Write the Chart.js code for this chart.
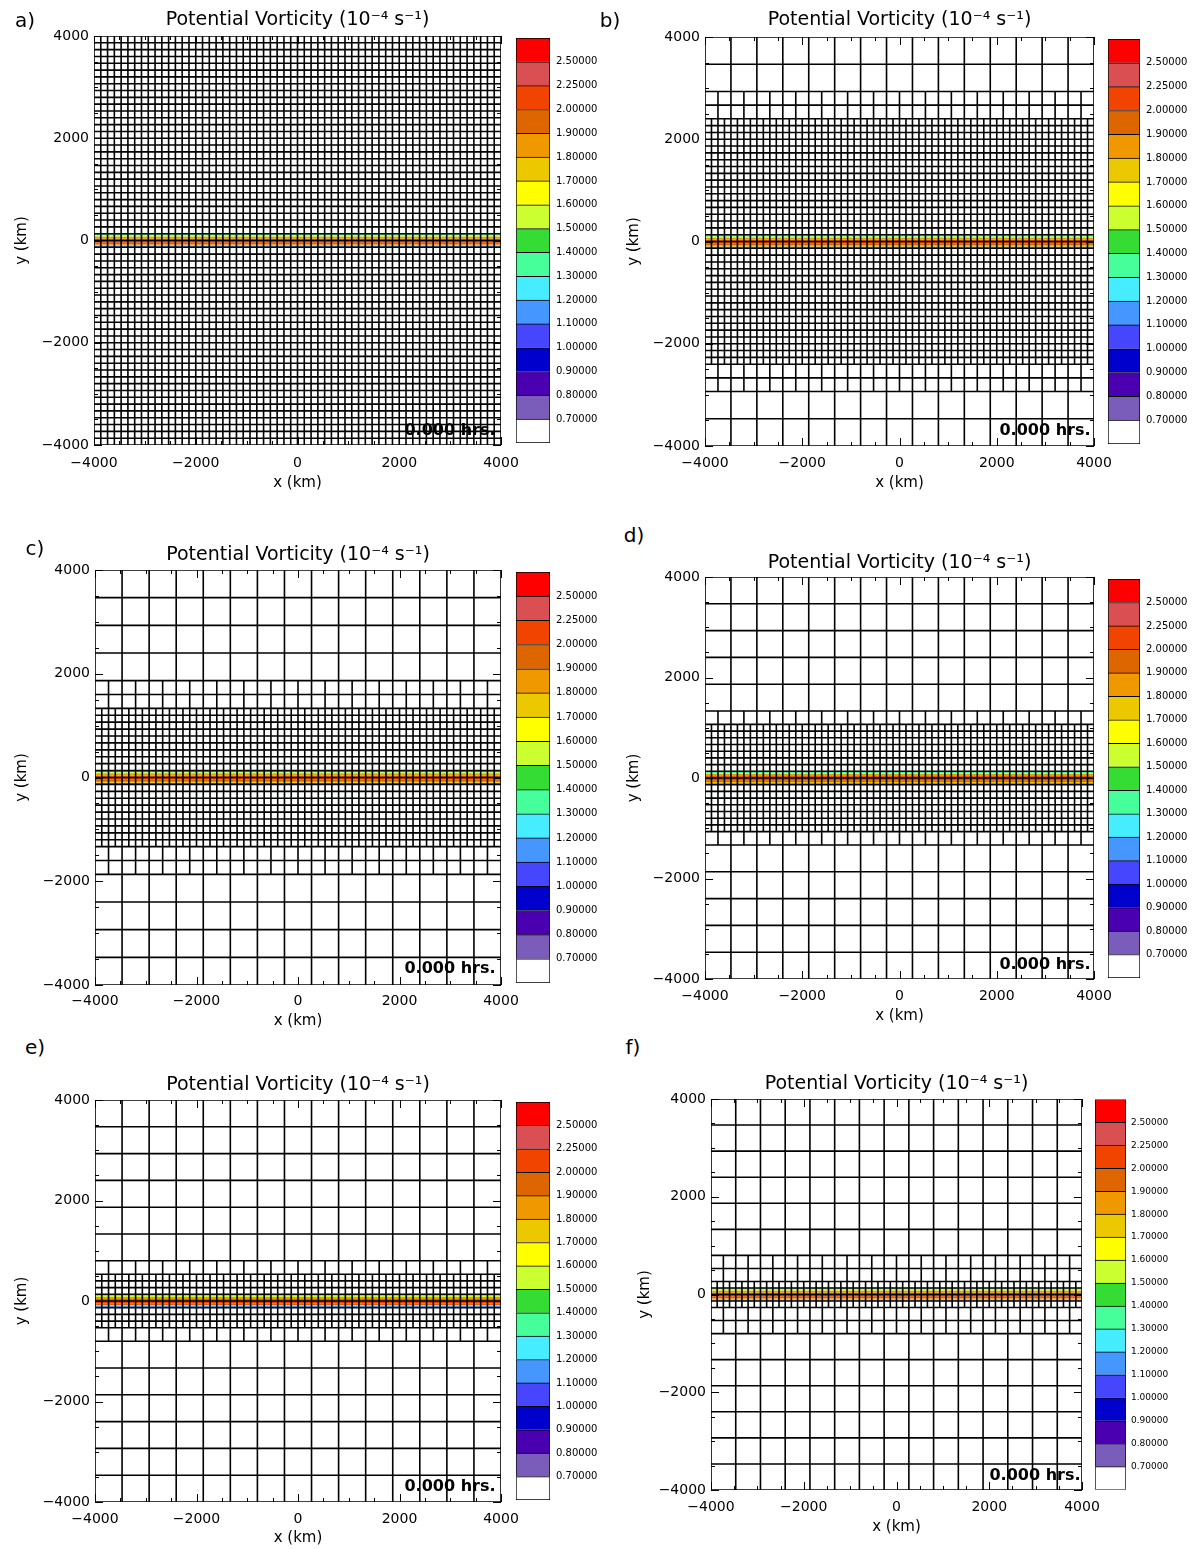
<!DOCTYPE html>
<html><head><meta charset="utf-8">
<script src="https://cdn.jsdelivr.net/npm/chart.js@4.4.0/dist/chart.umd.min.js"></script>
<style>
body{margin:0;background:#fff;}
#fig{position:relative;width:1192px;height:1549px;background:#fff;font-family:"DejaVu Sans",sans-serif;overflow:hidden;}
canvas{position:absolute;}
.lbl{position:absolute;color:#000;white-space:nowrap;transform:translate(-50%,-50%);line-height:1;}
</style></head><body><div id="fig"></div>
<script>
// ---------------- data ----------------
const panelLabels = ['a)','b)','c)','d)','e)','f)'];
const timeHours = [0,0,0,0,0,0];
const xTickValues = [-4000,-2000,0,2000,4000];
const yTickValues = [-4000,-2000,0,2000,4000];
const domainKm = [-4000,4000];
const coarseCells = 15;
const refinement = 2;
// refined strips (rows): level 1 in coarse-row index, level 2 in level-1-row index (from bottom)
const level1Start = [0,2,4,5,6,6];
const level1End   = [15,13,11,10,9,9];
const level2Start = [0,6,10,11,13,14];
const level2End   = [30,24,20,19,17,16];
// PV strip near y = 0 (km edges, top to bottom) and its value in each slab
const bandEdgesKm = [125,100,80,40,0,-45,-80,-100,-125];
const bandPV      = [1.35,1.55,1.85,1.95,2.1,1.95,1.75,1.15];
// colour bar
const pvLevels = [0.7,0.8,0.9,1.0,1.1,1.2,1.3,1.4,1.5,1.6,1.7,1.8,1.9,2.0,2.25,2.5];
const pvColors = ['#ffffff','#7a5cbb','#4a00b0','#0000cc','#4646ff','#4696ff','#46ecff','#46ff9a','#34dc34','#ccff30','#ffff00','#ecc800','#f09800','#dd6600','#f04400','#d94f52','#ff0000'];

// ---------------- layout (pixels) ----------------
const plotRects = [[94,36,501,445],[705,37,1094,446],[95,570,501,985],[705,577,1094,979],[95,1100,501,1502],[711,1099,1082,1490]];
const titleY  = [20,20,555,563,1085,1084];
const xTickY  = [463,463,1001,996,1519,1507];
const xTitleY = [483,483,1021,1016,1538,1527];
const yTitleX = [22,634,22,634,22,645];
const cbRects = [[516,36,550,445],[1108,37,1140,446],[516,570,550,985],[1108,577,1140,980],[516,1100,550,1502],[1095,1099,1126,1490]];
const cbFont  = [10,10,10,10,10,9];
const letterPos = [[25,20],[610,20],[35,548],[634,535],[35,1047],[633,1047]];
const hrsPos = [[450,430],[1045,430],[450,968],[1045,964],[450,1486],[1035,1475]];
const minorTickKm = 500;

Chart.defaults.font.family = "'DejaVu Sans', sans-serif";
Chart.defaults.color = '#000';
const fig = document.getElementById('fig');

function fmt(v){ return (v<0?'\u2212':'') + Math.abs(v); }
function pvColor(v){ let i=0; while(i<pvLevels.length && v>=pvLevels[i]) i++; return pvColors[i]; }
function r3(v){ return Math.round(v*1000)/1000; }

function buildRows(p){
  const [d0,d1]=domainKm, span=d1-d0, rows=[];
  const n1=coarseCells*refinement, n2=n1*refinement;
  for(let j=0;j<coarseCells;j++){
    if(j<level1Start[p]||j>=level1End[p]){ rows.push([j/coarseCells,(j+1)/coarseCells,coarseCells]); continue; }
    for(let k=2*j;k<2*j+2;k++){
      if(k<level2Start[p]||k>=level2End[p]) rows.push([k/n1,(k+1)/n1,n1]);
      else for(let m=2*k;m<2*k+2;m++) rows.push([m/n2,(m+1)/n2,n2]);
    }
  }
  return rows.map(r=>[r3(d0+r[0]*span),r3(d0+r[1]*span),r[2]]);
}
function buildMesh(p){
  const rows=buildRows(p), pts=[], [x0,x1]=domainKm;
  const ys=new Set(); rows.forEach(r=>{ys.add(r[0]);ys.add(r[1]);});
  ys.forEach(y=>{pts.push({x:x0,y:y},{x:x1,y:y},{x:null,y:null});});
  let i=0;
  while(i<rows.length){
    let j=i; while(j+1<rows.length && rows[j+1][2]===rows[i][2]) j++;
    const n=rows[i][2], ya=rows[i][0], yb=rows[j][1];
    for(let c=0;c<=n;c++){ const x=r3(x0+(x1-x0)*c/n); pts.push({x:x,y:ya},{x:x,y:yb},{x:null,y:null}); }
    i=j+1;
  }
  return pts;
}

const inTicks = {
  id:'inTicks',
  afterDatasetsDraw(chart){
    const {ctx, chartArea:a, scales:{x,y}} = chart;
    ctx.save(); ctx.strokeStyle='#000'; ctx.lineWidth=1; ctx.beginPath();
    for(let v=domainKm[0]; v<=domainKm[1]; v+=minorTickKm){
      const len = (v % 2000 === 0) ? 8 : 4;
      const px = Math.round(x.getPixelForValue(v))+0.5;
      ctx.moveTo(px,a.bottom); ctx.lineTo(px,a.bottom-len);
      ctx.moveTo(px,a.top); ctx.lineTo(px,a.top+len);
      const py = Math.round(y.getPixelForValue(v))+0.5;
      ctx.moveTo(a.left,py); ctx.lineTo(a.left+len,py);
      ctx.moveTo(a.right,py); ctx.lineTo(a.right-len,py);
    }
    ctx.stroke(); ctx.restore();
  }
};

function addLabel(text,x,y,css){
  const d=document.createElement('div'); d.className='lbl'; d.textContent=text;
  d.style.left=x+'px'; d.style.top=y+'px'; Object.assign(d.style,css||{}); fig.appendChild(d);
}

function makeMain(p){
  const [L,T,R,B]=plotRects[p];
  const tSize=19, tlh=tSize*1.2, aSize=15, alh=aSize*1.2, kSize=14, klh=kSize*1.2;
  const cLeft = yTitleX[p]-14, cTop = titleY[p]-16, cBottom = xTitleY[p]+alh/2+2, padRight=30;
  const W = Math.round(R-cLeft+padRight), H = Math.round(cBottom-cTop);
  const yAxisW = L-cLeft, xAxisH = H-(B-cTop);
  const tPadTop = 16-tlh/2, tPadBot = (T-cTop)-tlh-tPadTop;
  const cv=document.createElement('canvas'); cv.width=W; cv.height=H;
  cv.style.left=cLeft+'px'; cv.style.top=cTop+'px'; cv.style.width=W+'px'; cv.style.height=H+'px';
  fig.appendChild(cv);

  const datasets=[{
    label:'mesh', data:buildMesh(p), showLine:true, spanGaps:false, borderColor:'#000', borderWidth:1.6,
    pointRadius:0, fill:false, order:0
  }];
  for(let i=0;i<bandPV.length;i++){
    datasets.push({label:'pv'+i, data:[{x:domainKm[0],y:bandEdgesKm[i]},{x:domainKm[1],y:bandEdgesKm[i]}],
      showLine:true, borderWidth:0, borderColor:'rgba(0,0,0,0)', pointRadius:0,
      backgroundColor:pvColor(bandPV[i]), fill:{value:bandEdgesKm[i+1]}, order:1});
  }
  const axis = (title, ticks, isX) => ({
    type:'linear', min:domainKm[0], max:domainKm[1], position:isX?'bottom':'left',
    afterBuildTicks:s=>{ s.ticks = ticks.map(v=>({value:v})); },
    ticks:{font:{size:kSize}, color:'#000', padding:isX?(xTickY[p]-B-klh/2):5, maxRotation:0, autoSkip:false, callback:v=>fmt(v)},
    grid:{display:false, drawTicks:false}, border:{display:false},
    title:{display:true, text:title, color:'#000', font:{size:aSize}, padding:isX?{top:0,bottom:2}:{top:5,bottom:0}},
    afterFit:s=>{ if(isX) s.height=xAxisH; else s.width=yAxisW; }
  });
  new Chart(cv,{
    type:'scatter', data:{datasets},
    options:{responsive:false, animation:false, events:[],
      layout:{padding:{top:0,right:padRight,left:0,bottom:0}},
      plugins:{legend:{display:false}, tooltip:{enabled:false},
        title:{display:true, text:'Potential Vorticity (10\u207B\u2074 s\u207B\u00B9)', color:'#000', fullSize:false,
          font:{size:tSize, weight:'normal'}, padding:{top:tPadTop,bottom:tPadBot}}},
      scales:{x:axis('x (km)',xTickValues,true), y:axis('y (km)',yTickValues,false)}
    },
    plugins:[inTicks]
  });
}

function makeBar(p){
  const [L,T,R,B]=cbRects[p]; const lw=52, pad=10;
  const W=(R-L)+lw, H=(B-T)+2*pad;
  const cv=document.createElement('canvas'); cv.width=W; cv.height=H;
  cv.style.left=L+'px'; cv.style.top=(T-pad)+'px'; cv.style.width=W+'px'; cv.style.height=H+'px';
  fig.appendChild(cv);
  new Chart(cv,{
    type:'bar',
    data:{labels:[''], datasets:pvColors.map((c,i)=>({label:'b'+i, data:[1], backgroundColor:c, borderColor:'#000',
      borderWidth:{top:1,left:1,right:1,bottom:i===0?1:0}, borderSkipped:false, barPercentage:1, categoryPercentage:1}))},
    options:{responsive:false, animation:false, events:[],
      layout:{padding:{top:pad,bottom:pad,left:0,right:0}},
      plugins:{legend:{display:false}, tooltip:{enabled:false}},
      scales:{
        x:{display:false, stacked:true},
        y:{stacked:true, min:0, max:pvColors.length, position:'right',
          afterBuildTicks:s=>{ s.ticks = pvLevels.map((v,i)=>({value:i+1})); },
          ticks:{autoSkip:false, font:{size:cbFont[p]}, color:'#000', padding:p===5?5:6,
            callback:v=>(v>=1&&v<=pvLevels.length)?pvLevels[v-1].toFixed(5):null},
          grid:{display:false, drawTicks:false}, border:{display:false},
          afterFit:s=>{ s.width=lw; }}
      }
    }
  });
}

for(let p=0;p<6;p++){
  makeMain(p); makeBar(p);
  addLabel(panelLabels[p], letterPos[p][0], letterPos[p][1], {fontSize:'20px'});
  addLabel(timeHours[p].toFixed(3)+' hrs.', hrsPos[p][0], hrsPos[p][1], {fontSize:'16px', fontWeight:'bold'});
}
</script></body></html>
